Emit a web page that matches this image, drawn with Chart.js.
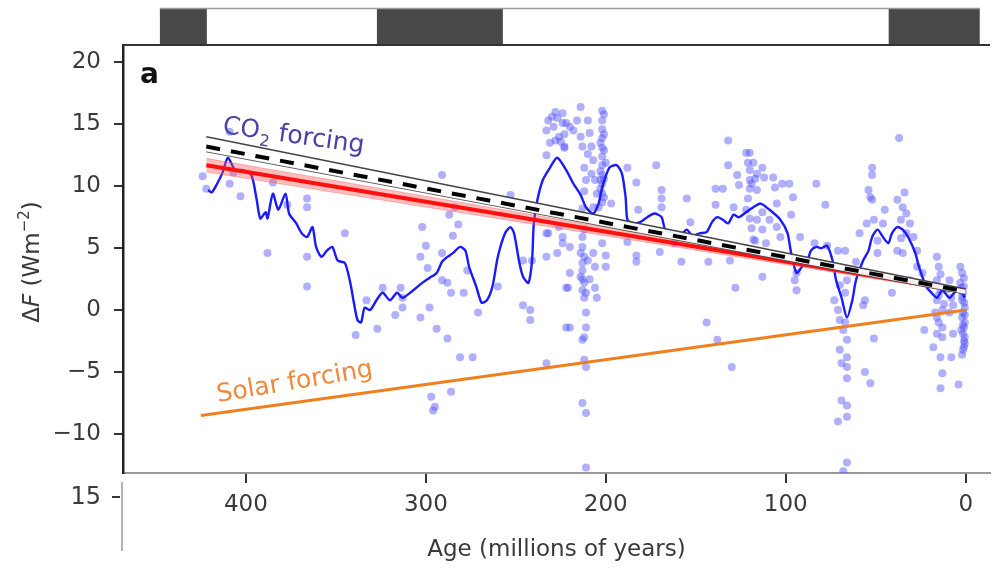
<!DOCTYPE html>
<html>
<head>
<meta charset="utf-8">
<script src="https://cdn.jsdelivr.net/npm/chart.js@4.4.1/dist/chart.umd.min.js"></script>
<style>
  html, body { margin: 0; padding: 0; background: #fff; }
  #wrap { width: 994px; height: 569px; }
</style>
</head>
<body>
<div id="wrap"><canvas id="chart"></canvas></div>
<script>
// ---- data (age in Myr, forcing in W m^-2) ----
const xTickValues = [400, 300, 200, 100, 0];
const yTickValues = [-10, -5, 0, 5, 10, 15, 20];

// proxy-based forcing estimates
const proxyPoints = [
  [424,10.8],[422,9.8],[409,14.4],[409,10.2],[407,11.1],[403,9.2],[401,12.9],[385,10.3],[388,4.6],[377,8.5],
  [366,9.0],[366,8.3],[366,4.3],[366,1.9],[345,6.2],[339,-2.0],[333,0.8],[327,-1.5],
  [324,1.8],[317,-0.4],[314,1.8],[313,1.0],[313,0.2],[303,4.3],[303,-0.6],[302,6.7],[300,5.2],[299,3.4],
  [298,0.2],[294,-1.5],[291,4.6],[291,2.4],[291,10.9],[288,-2.3],[288,2.2],[287,7.7],[286,1.4],[285,6.0],
  [284,8.3],[282,6.9],[281,-3.8],[279,1.4],[277,3.2],[274,-3.8],[271,-0.2],[297,-7.0],[296,-8.1],[295,-7.8],
  [286,-6.6],[260,1.9],[253,9.3],[246,4.0],[246,0.4],[242,0.0],[242,-0.8],[241,4.0],[233,-4.3],[233,6.2],
  [232,6.2],[233,4.3],[224,5.9],[227,4.6],[222,1.8],[222,-1.4],
  [233,14.5],[232,15.3],[230,15.6],[228,16.0],[227,15.5],[224,15.1],[231,13.5],[228,13.7],[226,14.0],[223,14.2],
  [223,13.1],[233,12.5],[220,14.8],[229,14.8],[225,13.6],
  [224,15.9],[222,15.1],[223,13.2],[218,14.5],[216,15.3],[214,16.4],[214,14.0],[213,13.2],[212,11.5],[211,10.5],
  [210,15.3],[209,14.3],[208,13.2],[207,12.1],[206,10.5],[205,9.4],[210,12.6],[208,11.0],[212,9.6],
  [202,16.1],[202,15.3],[202,14.6],[202,13.9],[202,13.1],[202,12.4],[202,11.7],[202,10.9],[202,10.2],[202,9.4],
  [202,8.7],[201,15.8],[201,12.9],[203,11.2],[200,11.9],[203,10.5],[204,8.3],[197,8.6],[207,8.3],[213,8.2],
  [201,14.2],[203,13.5],[201,10.6],[203,9.8],[201,9.1],
  [226,6.7],[224,5.4],[220,5.1],[213,5.9],[213,5.1],[213,3.8],[213,3.2],[214,2.7],[212,2.2],[213,1.6],
  [212,1.0],[211,1.4],[207,4.6],[206,3.5],[206,1.8],[205,1.0],[202,5.4],[200,4.4],[200,3.5],[220,3.0],
  [221,1.8],[220,-1.4],[211,-0.2],[211,-1.4],[212,-2.2],[213,-2.4],[212,-4.0],[211,-4.6],[213,-7.5],[211,-8.3],
  [211,-12.7],[212,6.5],[210,4.0],[214,4.6],[209,2.5],[212,4.3],[213,2.5],
  [188,11.5],[183,10.3],[188,5.5],[183,4.4],[183,3.9],[182,8.1],[172,11.7],[169,9.7],[169,9.0],[169,8.3],
  [170,4.7],[162,5.4],[158,3.9],[155,9.0],[153,7.1],[143,3.9],[144,-1.0],[139,9.8],[135,9.8],[139,8.5],
  [138,-2.4],[132,13.7],[132,11.7],[131,4.0],[130,-4.6],[129,8.3],[128,1.8],[127,10.9],[126,10.1],
  [122,12.7],[121,11.9],[120,11.3],[120,10.5],[120,9.8],[121,9.0],[122,8.1],[120,7.4],[119,6.6],[118,5.7],
  [122,5.0],[117,10.6],[116,7.3],
  [120,12.7],[118,11.9],[116,11.0],[113,11.5],[119,10.2],[116,9.7],[112,10.7],[107,10.7],[106,9.9],[102,10.2],
  [98,10.2],[96,9.1],[105,8.6],[113,7.9],[109,7.3],[113,6.5],[105,6.7],[117,5.6],[111,5.4],[103,5.9],
  [97,7.7],[92,5.9],[113,2.7],[94,3.0],[94,1.6],[95,2.4],[83,10.2],[78,8.5],[84,5.4],[77,5.2],[71,4.8],[67,4.8],
  [73,0.8],[71,0.0],[70,-0.8],[67,1.4],[66,2.4],[68,-1.6],[66,-2.4],[70,-3.2],[66,-3.8],[69,-4.3],
  [66,-4.6],[66,-5.5],[69,-7.3],[66,-7.7],[71,-9.0],[66,-8.6],[66,-12.3],[68,-13.0],[68,3.3],[70,2.0],[67,-1.0],
  [56,0.8],[57,0.4],[56,-5.0],[53,-5.9],[51,-2.3],[61,3.9],[59,6.2],[54,9.7],[52,11.5],[52,10.9],
  [53,9.1],[52,8.9],[51,7.3],[55,7.0],[46,7.0],[45,8.1],[49,5.6],[49,4.6],
  [37,13.9],[38,8.9],[35,8.3],[33,7.8],[36,7.3],[31,7.0],[33,6.2],[29,5.9],[38,4.8],[35,4.6],
  [27,4.8],[27,3.5],[41,1.4],[31,2.4],[24,3.0],[23,-1.6],[18,-3.0],[36,5.8],[34,9.5],
  [16,4.3],[15,3.5],[16,2.4],[14,1.6],[16,0.8],[13,0.0],[16,-0.6],[13,-1.4],[16,-1.9],[13,-2.2],
  [14,-3.8],[13,-5.1],[14,-6.3],[15,1.2],[14,2.9],[17,-0.2],[15,-1.0],[12,0.5],
  [9,2.4],[8,1.0],[9,-0.2],[7,-1.9],[8,-3.8],[4,-6.0],[10,1.7],[7,0.4],
  [3,3.5],[2,3.0],[3,2.2],[1.5,1.4],[2,0.8],[0.5,0.2],[1.5,-0.2],[0.5,-1.0],[1.5,-1.9],[0.5,-2.7],
  [1.5,-3.2],[1,2.6],[2.5,1.8],[0.8,0.6],[2,-0.6],[1,-1.4],[0.5,-2.2],[1,-2.5],[2,-3.6],
  [1,1.9],[2,1.1],[0.5,-0.4],[1.5,-1.2],[2.5,-1.6],[1,-3.0]
];

// smoothed proxy curve
const proxyTrend = [
  [421,9.7],[419,9.5],[416,10.2],[413,11.1],[410,12.3],[406,11.3],[402,11.3],[397,10.9],[394,8.9],[392,7.4],
  [389,7.9],[388,7.4],[385,9.4],[382,8.1],[378,9.4],[376,7.8],[372,7.0],[369,6.2],[366,5.9],[363,6.7],
  [361,5.1],[358,4.3],[355,4.8],[352,5.1],[349,4.0],[345,3.8],[342,2.2],[340,0.6],[338,-0.8],[336,-1.0],
  [334,0.2],[331,0.0],[327,0.9],[324,1.4],[320,0.8],[316,1.4],[313,1.0],[307,1.6],[302,2.2],[298,2.6],
  [294,3.0],[291,3.9],[288,4.3],[285,4.6],[281,5.1],[278,4.8],[276,3.5],[272,1.9],[269,0.6],[266,0.8],
  [263,1.9],[260,4.3],[256,6.2],[253,6.7],[251,6.2],[248,3.8],[246,2.7],[243,2.2],[241,4.0],[240,7.0],
  [238,8.9],[235,10.5],[231,11.5],[227,12.3],[222,11.3],[218,10.2],[214,9.3],[211,8.3],[207,7.8],[204,8.6],
  [202,9.9],[198,11.5],[194,11.7],[191,11.0],[189,9.1],[188,7.3],[185,7.0],[181,7.1],[177,7.5],[173,7.8],
  [169,7.5],[167,6.5],[163,6.2],[159,6.0],[155,6.5],[152,6.0],[148,6.2],[144,6.3],[141,7.1],[138,7.5],
  [135,7.3],[132,7.0],[129,7.7],[126,7.5],[122,7.9],[118,8.3],[114,8.6],[109,8.1],[103,7.3],[99,6.2],
  [97,4.6],[94,3.0],[91,3.5],[88,4.0],[86,4.8],[83,5.1],[80,5.0],[77,5.2],[74,4.0],[72,2.4],
  [69,1.0],[66,-0.6],[63,0.8],[61,2.4],[57,4.0],[54,4.8],[52,5.9],[49,6.5],[46,5.9],[43,5.4],
  [41,6.2],[38,6.7],[35,6.5],[32,5.9],[28,4.6],[26,3.5],[22,1.9],[19,1.4],[16,1.0],[13,1.6],
  [9,1.0],[5,1.6],[2,1.4],[0.5,1.0]
];

// CO2 forcing fits (ages, value)
const co2Ages = [422, 0];
const co2Model = [13.2, 1.5];
const co2ModelHi = [14.0, 1.7];
const co2ModelLo = [12.8, 1.3];
const co2Fit = [11.7, 1.5];
const co2FitHi = [12.25, 1.65];
const co2FitLo = [11.15, 1.35];

// solar forcing
const solarAges = [425, 0];
const solarValues = [-8.5, 0.0];

// glaciation strip across the top
const stripRange = [447.8, -7.8];
const glacialBlocks = [[447.8, 421.7], [327.2, 257.2], [42.8, -7.8]];

const FONT = '"DejaVu Sans", "Liberation Sans", Arial, sans-serif';

function pairs(ages, vals) {
  return ages.map((a, i) => ({x: a, y: vals[i]}));
}
function fmtMinus(v) {
  return v < 0 ? '\u2212' + Math.abs(v) : String(v);
}

const decorPlugin = {
  id: 'decor',
  afterDraw(chart) {
    const {ctx, chartArea: area, scales: {x, y}} = chart;
    ctx.save();

    // top strip
    const sx0 = x.getPixelForValue(stripRange[0]);
    const sx1 = x.getPixelForValue(stripRange[1]);
    const sTop = 8, sBot = area.top;
    ctx.fillStyle = '#ffffff';
    ctx.fillRect(sx0, sTop, sx1 - sx0, sBot - sTop);
    ctx.fillStyle = '#484848';
    glacialBlocks.forEach(b => {
      const b0 = x.getPixelForValue(b[0]);
      const b1 = x.getPixelForValue(b[1]);
      ctx.fillRect(b0, sTop, b1 - b0, sBot - sTop);
    });
    ctx.strokeStyle = '#9a9a9a';
    ctx.lineWidth = 1.5;
    ctx.beginPath();
    ctx.moveTo(sx0, sTop + 0.5);
    ctx.lineTo(sx1, sTop + 0.5);
    ctx.stroke();

    // plot top border
    ctx.strokeStyle = '#333';
    ctx.lineWidth = 2;
    ctx.beginPath();
    ctx.moveTo(area.left, area.top);
    ctx.lineTo(area.right, area.top);
    ctx.stroke();

    // stray axis stub below the panel
    ctx.strokeStyle = '#999';
    ctx.lineWidth = 1.5;
    ctx.beginPath();
    ctx.moveTo(area.left - 1, area.bottom + 9);
    ctx.lineTo(area.left - 1, area.bottom + 78);
    ctx.stroke();
    ctx.strokeStyle = '#333';
    ctx.lineWidth = 2;
    ctx.beginPath();
    ctx.moveTo(area.left - 11, area.bottom + 24);
    ctx.lineTo(area.left - 3, area.bottom + 24);
    ctx.stroke();
    ctx.fillStyle = '#3a3a3a';
    ctx.font = '24px ' + FONT;
    ctx.textAlign = 'right';
    ctx.textBaseline = 'middle';
    ctx.fillText('15', area.left - 22, area.bottom + 25);

    // panel letter
    ctx.fillStyle = '#111';
    ctx.font = 'bold 28px ' + FONT;
    ctx.textAlign = 'left';
    ctx.textBaseline = 'alphabetic';
    ctx.fillText('a', area.left + 17, area.top + 38);

    // y axis title: ΔF (Wm−2)
    ctx.save();
    ctx.translate(33, 262);
    ctx.rotate(-Math.PI / 2);
    ctx.fillStyle = '#3a3a3a';
    ctx.textBaseline = 'middle';
    const parts = [
      {t: '\u0394', f: '23px ' + FONT, dy: 0},
      {t: 'F', f: 'italic 23px ' + FONT, dy: 0},
      {t: ' (Wm', f: '23px ' + FONT, dy: 0},
      {t: '\u22122', f: '15px ' + FONT, dy: -8},
      {t: ')', f: '23px ' + FONT, dy: 0}
    ];
    let total = 0;
    parts.forEach(p => { ctx.font = p.f; total += ctx.measureText(p.t).width; });
    let cx = -total / 2;
    ctx.textAlign = 'left';
    parts.forEach(p => {
      ctx.font = p.f;
      ctx.fillText(p.t, cx, p.dy);
      cx += ctx.measureText(p.t).width;
    });
    ctx.restore();

    // CO2 forcing label
    ctx.save();
    ctx.translate(222, 133);
    ctx.rotate(8 * Math.PI / 180);
    ctx.fillStyle = '#4b40a8';
    ctx.textAlign = 'left';
    ctx.textBaseline = 'alphabetic';
    ctx.font = '25px ' + FONT;
    ctx.fillText('CO', 0, 0);
    let w = ctx.measureText('CO').width;
    ctx.font = '16px ' + FONT;
    ctx.fillText('2', w + 1, 7);
    w += ctx.measureText('2').width + 1;
    ctx.font = '25px ' + FONT;
    ctx.fillText(' forcing', w, 0);
    ctx.restore();

    // Solar forcing label
    ctx.save();
    ctx.translate(218, 402);
    ctx.rotate(-9.5 * Math.PI / 180);
    ctx.fillStyle = '#f0893c';
    ctx.textAlign = 'left';
    ctx.textBaseline = 'alphabetic';
    ctx.font = '25px ' + FONT;
    ctx.fillText('Solar forcing', 0, 0);
    ctx.restore();

    ctx.restore();
  }
};

const lineBase = {pointRadius: 0, pointHoverRadius: 0, tension: 0, fill: false};

new Chart(document.getElementById('chart'), {
  type: 'line',
  data: {
    datasets: [
      Object.assign({}, lineBase, {
        label: 'Solar forcing', data: pairs(solarAges, solarValues),
        borderColor: '#f07f1e', borderWidth: 3, order: 1
      }),
      Object.assign({}, lineBase, {
        label: 'CO2 model', data: pairs(co2Ages, co2Model),
        borderColor: '#000', borderWidth: 4, borderDash: [14, 11], order: 2
      }),
      Object.assign({}, lineBase, {
        label: 'CO2 model upper', data: pairs(co2Ages, co2ModelHi),
        borderColor: '#444', borderWidth: 1.5, order: 3,
        fill: {target: '+1'}, backgroundColor: 'rgba(255,255,255,0.92)'
      }),
      Object.assign({}, lineBase, {
        label: 'CO2 model lower', data: pairs(co2Ages, co2ModelLo),
        borderColor: '#444', borderWidth: 1.5, order: 4
      }),
      Object.assign({}, lineBase, {
        label: 'CO2 fit', data: pairs(co2Ages, co2Fit),
        borderColor: '#ff1010', borderWidth: 4, order: 5
      }),
      Object.assign({}, lineBase, {
        label: 'CO2 fit upper', data: pairs(co2Ages, co2FitHi),
        borderColor: 'rgba(255,80,80,0.35)', borderWidth: 1, order: 6,
        fill: {target: '+1'}, backgroundColor: 'rgba(255,90,90,0.4)'
      }),
      Object.assign({}, lineBase, {
        label: 'CO2 fit lower', data: pairs(co2Ages, co2FitLo),
        borderColor: 'rgba(255,80,80,0.35)', borderWidth: 1, order: 7
      }),
      Object.assign({}, lineBase, {
        label: 'Proxy trend', data: proxyTrend.map(p => ({x: p[0], y: p[1]})),
        borderColor: '#1a1aff', borderWidth: 2.4, tension: 0.25, order: 8
      }),
      {
        label: 'Proxy', data: proxyPoints.map(p => ({x: p[0], y: p[1]})),
        showLine: false, pointRadius: 4, pointHoverRadius: 4,
        pointBackgroundColor: 'rgba(80,80,255,0.45)', pointBorderWidth: 0,
        borderColor: 'rgba(80,80,255,0.45)', order: 9
      }
    ]
  },
  options: {
    responsive: true,
    maintainAspectRatio: false,
    animation: false,
    layout: {padding: {top: 45, left: 0, right: 0, bottom: 0}},
    plugins: {legend: {display: false}, tooltip: {enabled: false}},
    scales: {
      x: {
        type: 'linear',
        reverse: true,
        min: -13.5,
        max: 468.3,
        afterBuildTicks: axis => { axis.ticks = xTickValues.map(v => ({value: v})); },
        afterFit: axis => { axis.height = 96; },
        grid: {drawOnChartArea: false, drawTicks: true, tickLength: 10, color: '#333', lineWidth: 2},
        border: {display: true, color: '#999', width: 2},
        ticks: {
          font: {family: FONT, size: 23}, color: '#3a3a3a', padding: 8,
          maxRotation: 0, callback: v => fmtMinus(v)
        },
        title: {
          display: true, text: 'Age (millions of years)',
          font: {family: FONT, size: 23}, color: '#3a3a3a',
          padding: {top: 0, bottom: 5}
        }
      },
      y: {
        type: 'linear',
        min: -13.15,
        max: 21.4,
        afterBuildTicks: axis => { axis.ticks = yTickValues.map(v => ({value: v})); },
        afterFit: axis => { axis.width = 123; },
        grid: {drawOnChartArea: false, drawTicks: true, tickLength: 9, color: '#333', lineWidth: 2},
        border: {display: true, color: '#222', width: 2.5},
        ticks: {
          font: {family: FONT, size: 23}, color: '#3a3a3a', padding: 13,
          callback: v => fmtMinus(v)
        }
      }
    }
  },
  plugins: [decorPlugin]
});
</script>
</body>
</html>
